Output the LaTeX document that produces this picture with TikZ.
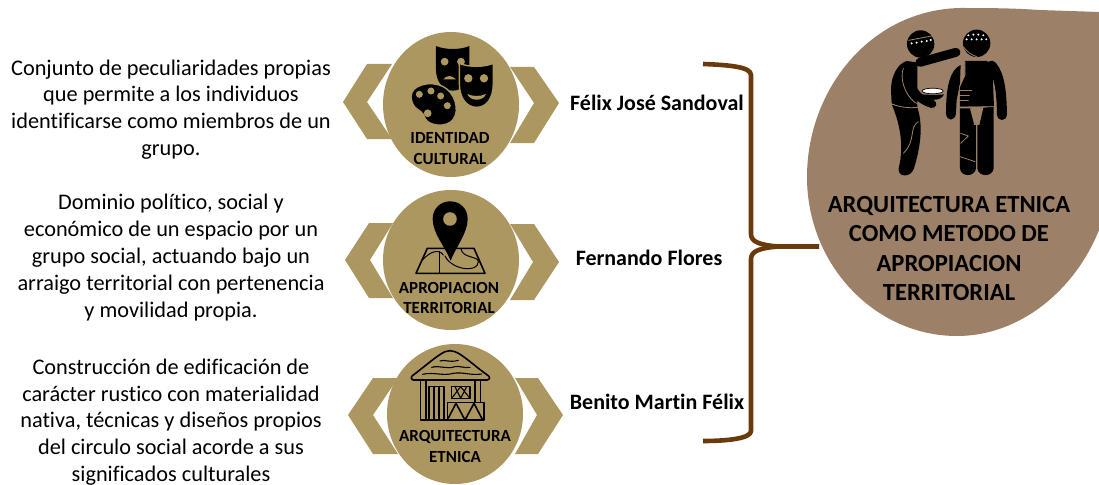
\documentclass[tikz,border=0pt]{standalone}
\usepackage{fontspec}
\setmainfont{Carlito}[Ligatures=NoCommon]
\usepackage{xcolor}
\usepackage{tikz}
\definecolor{gold}{HTML}{AD9761}
\definecolor{earth}{HTML}{9C8068}
\definecolor{bark}{HTML}{6B3A0C}
\tikzset{
  chev/.style={fill=gold},
  disc/.style={fill=gold},
  ink/.style={fill=black},
  hair/.style={draw=black, line width=1.6pt, line cap=round, line join=round},
  limb/.style={draw=black, line cap=round, line join=round},
  seam/.style={draw=earth, line width=0.8pt, line cap=round, line join=round},
  brace/.style={draw=bark, line width=4.6pt, line join=round},
  desc/.style={text=black, align=center, inner sep=0pt, font=\fontsize{22.3}{26.8}\selectfont},
  who/.style={text=black, inner sep=0pt, font=\bfseries\fontsize{22}{26}\selectfont},
  tag/.style={text=black, align=center, inner sep=0pt, font=\bfseries\fontsize{17}{20.6}\selectfont},
  big/.style={text=black, align=center, inner sep=0pt, font=\bfseries\fontsize{24.6}{29.6}\selectfont},
}
\begin{document}
\begin{tikzpicture}[x=1pt,y=-1pt]
  \useasboundingbox (0,0) rectangle (1099,484);

  % chevrons behind the discs
  \fill[chev] (343,102)--(367,64)--(392,64)--(367,102)--(392,139)--(367,139)--cycle;
  \fill[chev] (559,103)--(534,67)--(510,67)--(534,103)--(510,143)--(534,143)--cycle;
  \fill[chev] (345,260)--(369,223)--(393,223)--(370,260)--(393,298)--(369,298)--cycle;
  \fill[chev] (559,262)--(534,224)--(510,224)--(533,262)--(510,300)--(534,300)--cycle;
  \fill[chev] (348,415)--(373,378)--(398,378)--(373,415)--(398,454)--(373,454)--cycle;
  \fill[chev] (563,415)--(538,378)--(515,378)--(537,415)--(515,454)--(538,454)--cycle;

  \fill[disc] (451,104.5) ellipse [x radius=68pt, y radius=72.5pt];
  \fill[disc] (451,260) ellipse [x radius=68pt, y radius=70pt];
  \fill[disc] (455,414) ellipse [x radius=68pt, y radius=70pt];

  % masks and palette
  \begin{scope}[shift={(330,20)},x=0.3333pt,y=-0.3333pt]
    \fill[ink] (318,78) .. controls (345,90) and (392,90) .. (418,78) -- (418,150)
      .. controls (418,190) and (395,212) .. (368,212) .. controls (340,212) and (318,185) .. (318,150) -- cycle;
    \fill[gold] (344,125) circle (3.9pt) (393,125) circle (3.9pt);
    \fill[gold] (340,178) .. controls (350,165) and (365,165) .. (378,178) -- cycle;
    \fill[ink, draw=gold, line width=1.4pt] (388,130) .. controls (415,142) and (462,142) .. (490,130) -- (490,190)
      .. controls (490,235) and (470,262) .. (440,262) .. controls (410,262) and (388,235) .. (388,190) -- cycle;
    \fill[gold] (415,175) circle (4.2pt) (462,175) circle (4.2pt);
    \fill[gold] (412,222) .. controls (430,230) and (450,230) .. (468,222) .. controls (460,245) and (420,245) .. (412,222) -- cycle;
    \fill[ink, draw=gold, line width=1.4pt] (243,228) .. controls (245,195) and (300,180) .. (340,200)
      .. controls (375,218) and (390,270) .. (370,298) .. controls (350,325) and (295,318) .. (285,295)
      .. controls (280,275) and (265,272) .. (255,262) .. controls (247,252) and (243,240) .. (243,228) -- cycle;
    \fill[gold] (268,223) circle (3.5pt) (303,213) circle (3.5pt) (332,228) circle (3.5pt) (352,257) circle (3.5pt) (293,280) circle (3.9pt);
  \end{scope}

  % pin on map
  \begin{scope}[shift={(330,180)},x=0.3333pt,y=-0.3333pt]
    \draw[hair] (292,205) -- (432,205) -- (465,280) -- (258,280) -- cycle;
    \draw[hair, line width=1pt] (275,242) .. controls (300,215) and (325,205) .. (340,225);
    \draw[hair, line width=1pt] (330,215) -- (330,280);
    \draw[hair, line width=1pt] (345,228) .. controls (365,270) and (445,280) .. (445,245) .. controls (445,228) and (398,235) .. (393,207);
    \fill[ink] (362,242) .. controls (345,200) and (308,160) .. (308,117)
      .. controls (308,85) and (332,64) .. (360,64) .. controls (390,64) and (413,85) .. (413,117)
      .. controls (413,160) and (378,200) .. (362,242) -- cycle;
    \fill[gold] (360,117) circle (6.8pt);
  \end{scope}

  % hut
  \begin{scope}[shift={(330,335)},x=0.3333pt,y=-0.3333pt]
    \draw[hair] (250,135) -- (472,135) .. controls (482,132) and (480,125) .. (472,120)
      .. controls (430,90) and (400,60) .. (375,50) .. controls (365,46) and (355,46) .. (345,50)
      .. controls (320,62) and (290,90) .. (250,120) .. controls (242,125) and (242,132) .. (250,135) -- cycle;
    \draw[hair, line width=1.1pt] (330,78) .. controls (345,72) and (355,84) .. (385,76);
    \draw[hair, line width=1.1pt] (305,97) .. controls (330,90) and (350,104) .. (375,95) .. controls (390,92) and (400,100) .. (420,97);
    \draw[hair, line width=1.1pt] (278,118) .. controls (310,110) and (340,124) .. (370,115) .. controls (400,110) and (420,122) .. (455,117);
    \draw[hair] (272,135) -- (272,255) -- (462,255) -- (462,202) -- (352,202) -- (352,255);
    \draw[hair] (288,135) -- (288,255);
    \draw[hair] (435,135) -- (435,202) (452,135) -- (452,202);
    \draw[hair] (297,255) -- (297,155) -- (342,155) -- (342,255);
    \draw[hair, line width=1.1pt] (312,155) -- (312,255) (327,155) -- (327,255);
    \draw[hair] (365,155) rectangle (420,190);
    \draw[hair, line width=1.1pt] (365,190) -- (392,155) -- (420,190) (375,155) -- (392,190) -- (410,155);
    \draw[hair] (352,255) -- (378,205) -- (405,255) -- (432,205) -- (458,255);
  \end{scope}

  % brace
  \draw[brace] (703,64) .. controls (730,65) and (751,67) .. (751,75) -- (751,234)
    .. controls (751,242) and (760,245) .. (778,246.5) -- (819,246.5);
  \draw[brace] (778,246.5) .. controls (760,248) and (751,251) .. (751,259) -- (751,431)
    .. controls (751,438) and (730,441) .. (703,441);

  % blob with the two figures
  \fill[earth] (1099,12) -- (1040,10) .. controls (1010,8) and (985,8) .. (960,8)
    .. controls (870,10) and (807,90) .. (807,177) .. controls (807,265) and (875,336) .. (957,336)
    .. controls (1020,336) and (1075,290) .. (1099,230) -- cycle;
  \begin{scope}[shift={(690,0)},x=0.3333pt,y=-0.3333pt]
    % left figure
    \fill[ink] (692,132) circle (13.7pt);
    \fill[ink] (650,183) .. controls (625,190) and (603,225) .. (603,270) -- (605,310)
      .. controls (630,322) and (660,325) .. (682,322) -- (682,195) -- (700,190) -- cycle;
    \draw[limb, line width=9pt] (690,187) -- (798,157);
    \fill[ink] (606,315) .. controls (625,360) and (645,430) .. (626,505)
      .. controls (622,532) and (662,535) .. (672,505) .. controls (695,430) and (698,370) .. (682,322) -- cycle;
    \draw[seam] (640,205) .. controls (630,230) and (640,280) .. (675,308) -- (732,325);
    \draw[seam] (605,312) .. controls (630,322) and (660,325) .. (682,322);
    \draw[seam] (685,365) .. controls (655,385) and (680,420) .. (640,460);
    \draw[limb, line width=8pt] (655,205) .. controls (655,260) and (680,300) .. (727,312);
    \fill[ink] (697,283) .. controls (710,285) and (750,285) .. (762,283) .. controls (755,305) and (705,305) .. (697,283) -- cycle;
    \fill[white, draw=black, line width=0.7pt] (728,273) ellipse [x radius=10.5pt, y radius=2.8pt];
    \draw[seam] (656,121) -- (730,107);
    \foreach \dotx/\doty in {665/130, 680/128, 695/125, 710/123, 722/120}
      \fill[white] (\dotx,\doty) circle (1.1pt);
    % right figure
    \fill[ink] (860,130) circle (13.7pt);
    \fill[ink] (825,183) -- (890,183) .. controls (900,185) and (908,200) .. (908,220) -- (912,320) -- (810,320) -- (810,260) -- (825,225) -- cycle;
    \draw[limb, line width=10pt] (905,197) .. controls (930,225) and (935,280) .. (936,345);
    \fill[ink] (812,195) .. controls (780,210) and (768,260) .. (768,340) .. controls (770,365) and (795,365) .. (798,340)
      -- (800,300) -- (810,250) -- cycle;
    \fill[ink] (810,325) -- (858,325) -- (858,505) .. controls (855,532) and (812,532) .. (810,505) -- cycle;
    \fill[ink] (862,325) -- (911,320) -- (911,505) .. controls (908,532) and (865,532) .. (862,505) -- cycle;
    \fill[earth] (840,325) -- (880,323) -- (868,375) -- (853,375) -- cycle;
    \draw[seam] (810,322) -- (912,320);
    \draw[seam] (825,185) -- (825,225) -- (808,262);
    \draw[seam] (808,270) -- (845,270) (808,285) -- (838,285) (808,300) -- (835,300);
    \draw[seam] (812,400) -- (835,408) -- (812,430);
    \draw[seam] (810,470) -- (855,485);
    \draw[seam] (820,140) .. controls (830,155) and (845,165) .. (860,170);
    \foreach \dotx/\doty in {835/106, 850/104, 865/104, 880/106, 830/118, 845/118, 860/118, 875/118, 889/118}
      \fill[white] (\dotx,\doty) circle (1.1pt);
  \end{scope}

  \node[desc] (txtIdentidad) at (171,109.5) {Conjunto de peculiaridades propias\\que permite a los individuos\\identificarse como miembros de un\\grupo.};
  \node[desc] (txtApropiacion) at (171,257.5) {Dominio político, social y\\económico de un espacio por un\\grupo social, actuando bajo un\\arraigo territorial con pertenencia\\y movilidad propia.};
  \node[desc] (txtArquitectura) at (171,422) {Construcción de edificación de\\carácter rustico con materialidad\\nativa, técnicas y diseños propios\\del circulo social acorde a sus\\significados culturales};

  \node[tag] (tagIdentidad) at (450,148.5) {IDENTIDAD\\CULTURAL};
  \node[tag] (tagApropiacion) at (449,298) {APROPIACION\\TERRITORIAL};
  \node[tag] (tagArquitectura) at (455,446.5) {ARQUITECTURA\\ETNICA};

  \node[who] (whoFelix) at (657,103) {Félix José Sandoval};
  \node[who] (whoFernando) at (649,258) {Fernando Flores};
  \node[who] (whoBenito) at (657,402) {Benito Martin Félix};

  \node[big] (title) at (949,248.5) {ARQUITECTURA ETNICA\\COMO METODO DE\\APROPIACION\\TERRITORIAL};
\end{tikzpicture}
\end{document}
